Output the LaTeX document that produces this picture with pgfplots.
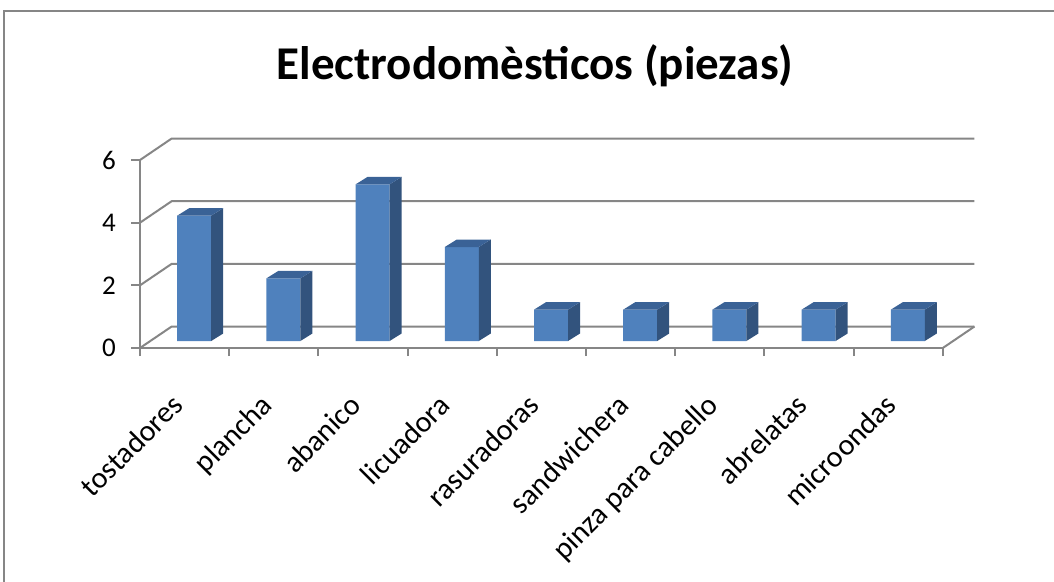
\documentclass[border=0pt]{standalone}
\usepackage{fontspec}
\setmainfont{Carlito}
\usepackage{pgfplots}
\usepackage{pgfplotstable}
\pgfplotsset{compat=1.18}
\definecolor{gridgray}{RGB}{134,134,134}
\definecolor{framegray}{RGB}{134,134,134}
\definecolor{frontcol}{RGB}{79,129,189}
\definecolor{sidecol}{RGB}{50,83,125}
\definecolor{topcol}{RGB}{58,98,150}

\pgfplotstableread{
x v
0 4
1 2
2 5
3 3
4 1
5 1
6 1
7 1
8 1
}\datatable

\pgfdeclareplotmark{bar3d}{%
  \pgfmathsetlengthmacro\hh{\val*31.33pt}%
  % side face
  \pgfpathmoveto{\pgfpoint{26.6pt}{7pt}}%
  \pgfpathlineto{\pgfpoint{38.6pt}{14.5pt}}%
  \pgfpathlineto{\pgfpoint{38.6pt}{14.5pt-\hh}}%
  \pgfpathlineto{\pgfpoint{26.6pt}{7pt-\hh}}%
  \pgfpathclose
  \pgfsetfillcolor{sidecol}%
  \pgfusepath{fill}%
  % top face
  \pgfpathmoveto{\pgfpoint{-7.4pt}{7pt}}%
  \pgfpathlineto{\pgfpoint{26.6pt}{7pt}}%
  \pgfpathlineto{\pgfpoint{38.6pt}{14.5pt}}%
  \pgfpathlineto{\pgfpoint{4.6pt}{14.5pt}}%
  \pgfpathclose
  \pgfsetfillcolor{topcol}%
  \pgfusepath{fill}%
}

\begin{document}
\begin{tikzpicture}[x=1pt,y=1pt]
\path[use as bounding box] (0,0) rectangle (1054,581);
\draw[framegray, line width=2.5pt] (4,-20) -- (4,570) -- (1080,570);
\node[anchor=base, font=\fontsize{47}{56}\selectfont\bfseries] at (535,501) {Electrodomèsticos (piezas)};
\begin{axis}[
  at={(140pt,233pt)}, anchor=south west,
  x=89.2pt, y=31.33pt,
  xmin=-0.5, xmax=8.5, ymin=0, ymax=6,
  clip=false,
  axis x line*=bottom, axis y line*=left,
  axis line style={draw=gridgray, line width=2pt, -},
  xtick={0,...,8},
  xticklabels={tostadores,plancha,abanico,licuadora,rasuradoras,sandwichera,pinza para cabello,abrelatas,microondas},
  minor xtick={-0.5,0.5,...,8.5},
  ytick={0,2,4,6},
  tick align=outside,
  major tick length=9pt,
  minor tick length=8pt,
  major x tick style={draw=none},
  minor x tick style={draw=gridgray, line width=2pt},
  y tick style={draw=gridgray, line width=2pt},
  /pgf/number format/assume math mode=true,
  xticklabel style={font=\fontsize{30}{34}\selectfont, anchor=north east, inner sep=0pt, xshift=-15pt, yshift=-35pt, rotate=45},
  yticklabel style={font=\fontsize{27}{31}\selectfont, inner sep=0pt, xshift=-15pt},
]
% back wall and left wall gridlines
\foreach \v in {0,2,4,6} {
  \edef\tmp{\noexpand\draw[gridgray, line width=2pt] (axis cs:-0.5,\v) -- (axis cs:-0.145,\v+0.686) -- (axis cs:8.855,\v+0.686);}
  \tmp
}
\draw[gridgray, line width=2pt] (axis cs:8.5,0) -- (axis cs:8.855,0.686);
% front faces
\addplot[ybar, bar width=34pt, bar shift=9.6pt, yshift=7pt, fill=frontcol, draw=none] table[x=x, y=v] {\datatable};
% side and top faces
\addplot[scatter, only marks, mark=bar3d,
  visualization depends on={\thisrow{v}\as\val}] table[x=x, y=v] {\datatable};
\end{axis}
\end{tikzpicture}
\end{document}
